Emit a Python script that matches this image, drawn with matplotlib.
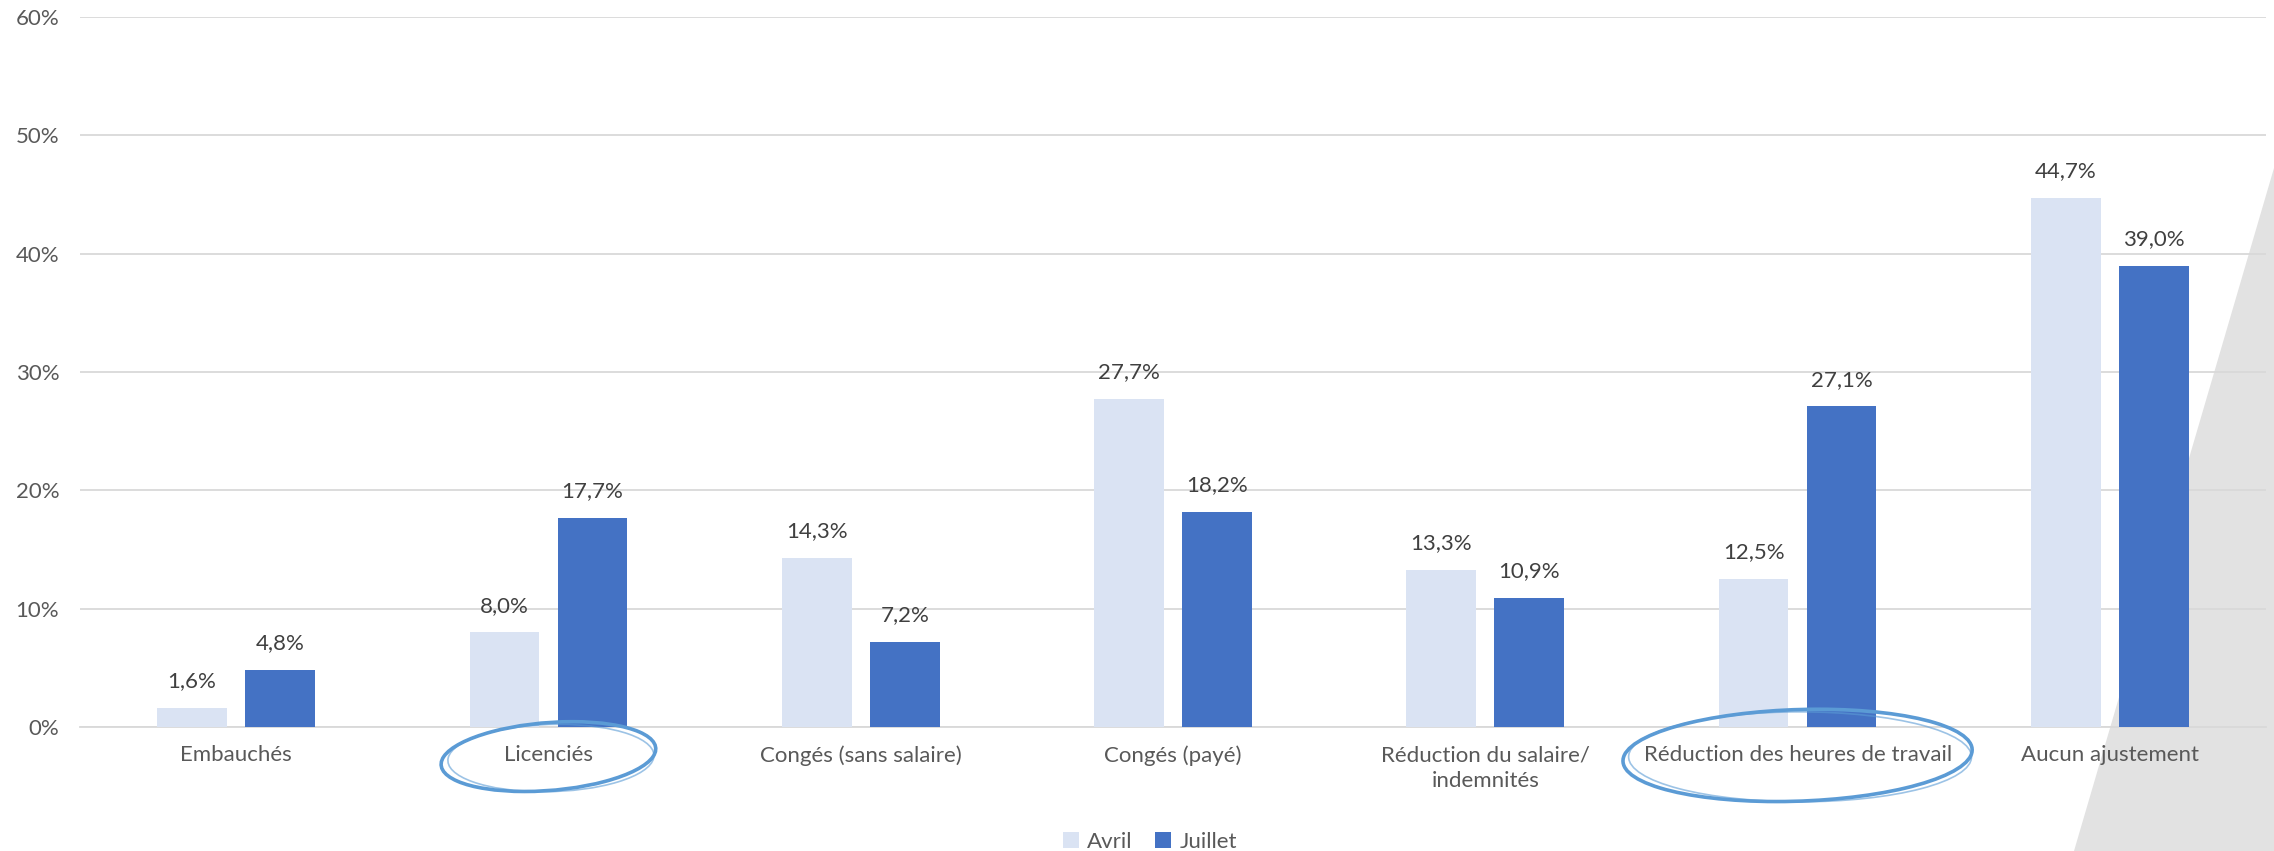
import numpy as np
import matplotlib
matplotlib.use("Agg")
import matplotlib.pyplot as plt
from matplotlib.patches import Ellipse, Polygon

plt.rcParams['font.family'] = ['Lato', 'DejaVu Sans']

categories = ['Embauchés', 'Licenciés', 'Congés (sans salaire)', 'Congés (payé)',
              'Réduction du salaire/\nindemnités', 'Réduction des heures de travail',
              'Aucun ajustement']
avril = [1.6, 8.0, 14.3, 27.7, 13.3, 12.5, 44.7]
juillet = [4.8, 17.7, 7.2, 18.2, 10.9, 27.1, 39.0]
series_names = ['Avril', 'Juillet']
yticks = [0, 10, 20, 30, 40, 50, 60]
circled = [1, 5]

W, H = 2274, 851
fig = plt.figure(figsize=(W / 100, H / 100), dpi=100)

def fx(px):
    return px / W

def fy(py):
    return 1 - py / H

# grey decorative wedge on the right, behind the chart
wedge = Polygon([(fx(2074), fy(851)), (fx(2274), fy(168)), (fx(2274), fy(851))],
                closed=True, transform=fig.transFigure, facecolor='#e2e2e2',
                edgecolor='none', zorder=-5)
fig.add_artist(wedge)

ax = fig.add_axes([fx(80), fy(727), fx(2266) - fx(80), fy(17) - fy(727)])
ax.set_facecolor('none')

x = np.arange(len(categories))
w = 0.223
off = 0.141
b1 = ax.bar(x - off, avril, w, color='#dae3f3', label=series_names[0], zorder=3)
b2 = ax.bar(x + off, juillet, w, color='#4472c4', label=series_names[1], zorder=3)

def fmt(v):
    return ('%.1f%%' % v).replace('.', ',')

for bars, vals in [(b1, avril), (b2, juillet)]:
    for r, v in zip(bars, vals):
        ax.annotate(fmt(v), (r.get_x() + r.get_width() / 2, v), xytext=(0, 12),
                    textcoords='offset points', ha='center', va='bottom',
                    fontsize=16, color='#404040')

ax.set_xlim(-0.5, len(categories) - 0.5)
ax.set_ylim(0, 60)
ax.set_yticks(yticks)
ax.set_yticklabels(['%d%%' % t for t in yticks], fontsize=16, color='#595959')
ax.set_xticks(x)
ax.set_xticklabels(categories, fontsize=16, color='#595959', linespacing=1.35)
ax.tick_params(axis='y', length=0, pad=15)
ax.tick_params(axis='x', length=0, pad=13)
ax.grid(axis='y', color='#d9d9d9', linewidth=1.3, zorder=0)
for s in ['top', 'right', 'left']:
    ax.spines[s].set_visible(False)
ax.spines['bottom'].set_color('#d9d9d9')
ax.spines['bottom'].set_linewidth(1.3)

# hand-drawn style circles around two categories
sizes = {1: (0.67, 5.9, -2.5, -1.5), 5: (1.11, 7.8, -2.4, -1.0)}
for i in circled:
    ew, eh, ey, ang0 = sizes[i]
    for dx, dy, dw, dh, ang, lw, a in [(0, 0, 0, 0, 0, 2.6, 1.0),
                                       (0.008, -0.12, -0.012, -0.2, 1.0, 1.2, 0.6)]:
        e = Ellipse((i + dx, ey + dy), ew + dw, eh + dh, angle=ang0 + ang, fill=False,
                    edgecolor='#5b9bd5', linewidth=lw, alpha=a, clip_on=False, zorder=4)
        ax.add_patch(e)

fig.legend(handles=[b1, b2], labels=series_names, loc='center',
           bbox_to_anchor=(fx(1150), fy(842)), ncol=2, frameon=False, fontsize=16,
           labelcolor='#595959', handlelength=0.7, handleheight=0.7,
           handletextpad=0.4, columnspacing=1.0)

fig.savefig('out.png', dpi=100)
